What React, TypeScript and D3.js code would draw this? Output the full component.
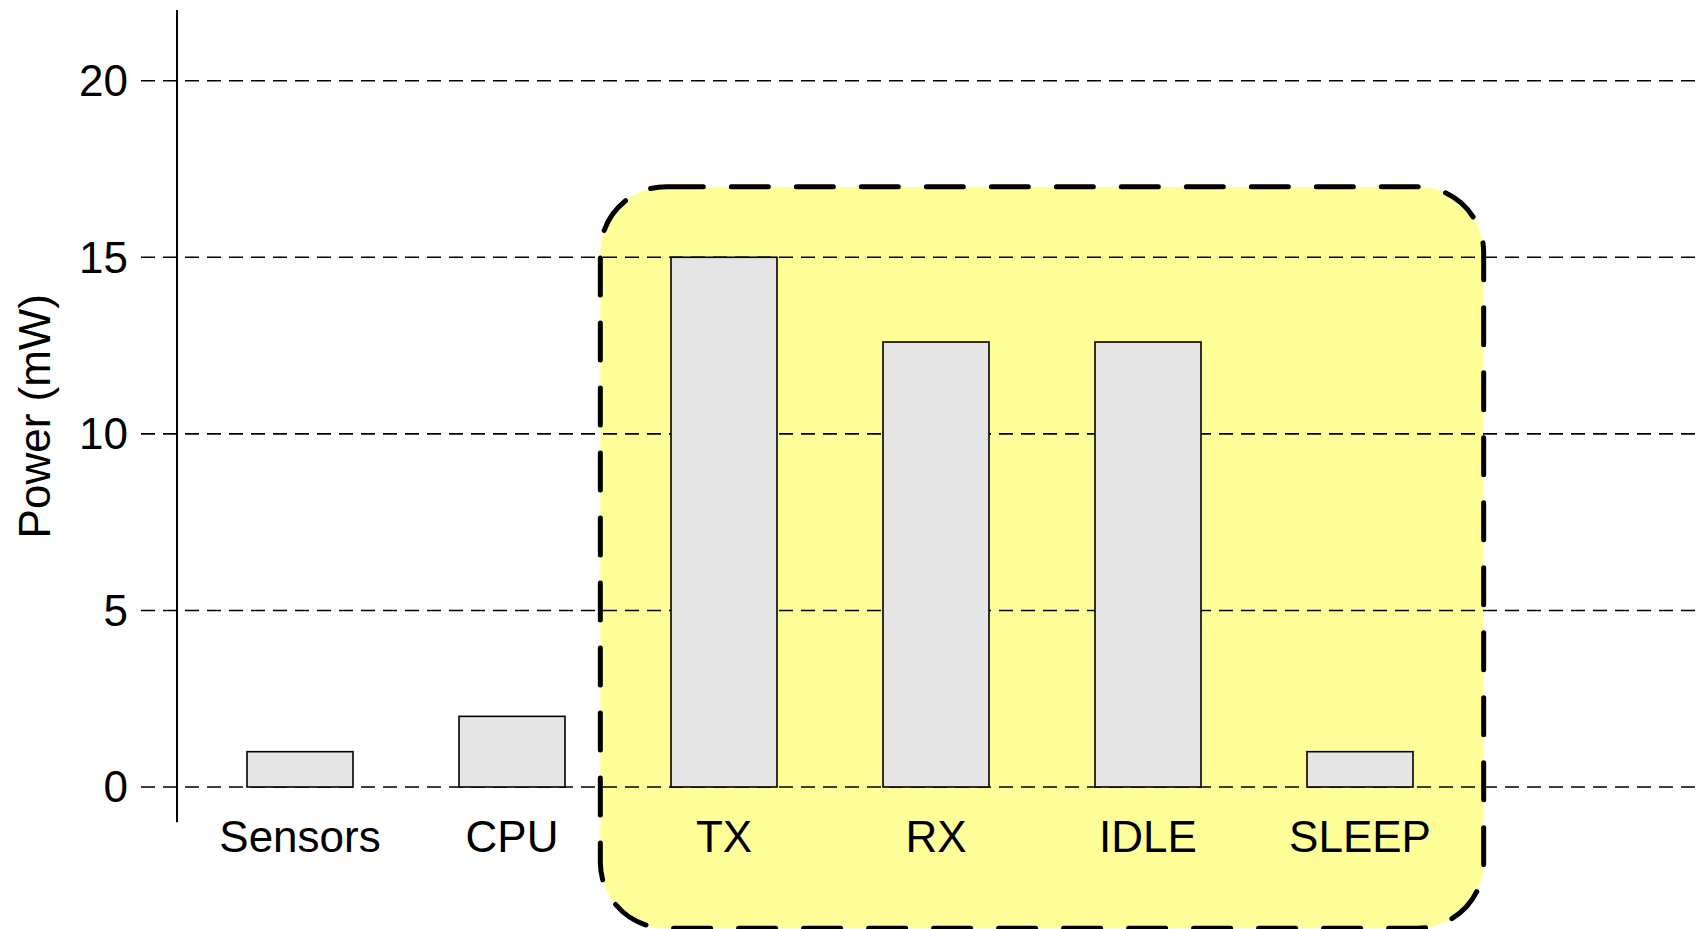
import React, { useEffect, useRef } from "react";
import * as d3 from "d3";

const categories = ["Sensors", "CPU", "TX", "RX", "IDLE", "SLEEP"];
const powerValues = [1, 2, 15, 12.6, 12.6, 1];
const yTicks = [0, 5, 10, 15, 20];
const highlighted = ["TX", "RX", "IDLE", "SLEEP"];
const highlightRange = [-4, 17];

const W = 1699;
const H = 929;

export default function App() {
  const ref = useRef<SVGSVGElement>(null);

  useEffect(() => {
    const svg = d3.select(ref.current);
    svg.selectAll("*").remove();

    const font = "'Liberation Sans', Arial, sans-serif";

    const x = d3.scaleBand()
      .domain(categories)
      .range([141, 1519])
      .paddingInner(0.5)
      .paddingOuter(0.5);

    const y = d3.scaleLinear()
      .domain([0, 20])
      .range([787, 80.7]);

    const axisX = 177;

    // highlighted region
    const first = highlighted[0];
    const last = highlighted[highlighted.length - 1];
    const pad = x.step() / 3;
    const bx0 = (x(first) as number) - pad;
    const bx1 = (x(last) as number) + x.bandwidth() + pad;
    svg.append("rect")
      .attr("x", bx0)
      .attr("y", y(highlightRange[1]))
      .attr("width", bx1 - bx0)
      .attr("height", y(highlightRange[0]) - y(highlightRange[1]))
      .attr("rx", 66)
      .attr("ry", 66)
      .attr("fill", "#ffff99")
      .attr("stroke", "#000")
      .attr("stroke-width", 5)
      .attr("stroke-dasharray", "37,28")
      .attr("stroke-linecap", "round");

    // gridlines + ticks
    svg.append("g")
      .selectAll("line")
      .data(yTicks)
      .join("line")
      .attr("x1", 141)
      .attr("x2", 1697)
      .attr("y1", d => y(d))
      .attr("y2", d => y(d))
      .attr("stroke", "#000")
      .attr("stroke-width", 1.6)
      .attr("stroke-dasharray", "14,8");

    svg.append("g")
      .selectAll("text")
      .data(yTicks)
      .join("text")
      .attr("x", 128)
      .attr("y", d => y(d))
      .attr("dy", "0.35em")
      .attr("text-anchor", "end")
      .style("font-family", font)
      .style("font-size", "44px")
      .text(d => d);

    // y axis line
    svg.append("line")
      .attr("x1", axisX)
      .attr("x2", axisX)
      .attr("y1", y(-1))
      .attr("y2", y(22))
      .attr("stroke", "#000")
      .attr("stroke-width", 2);

    // bars
    svg.append("g")
      .selectAll("rect")
      .data(powerValues)
      .join("rect")
      .attr("x", (d, i) => x(categories[i]) as number)
      .attr("y", d => y(d))
      .attr("width", x.bandwidth())
      .attr("height", d => y(0) - y(d))
      .attr("fill", "#e5e5e5")
      .attr("stroke", "#000")
      .attr("stroke-width", 1.6);

    // category labels
    svg.append("g")
      .selectAll("text")
      .data(categories)
      .join("text")
      .attr("x", d => (x(d) as number) + x.bandwidth() / 2)
      .attr("y", 852)
      .attr("text-anchor", "middle")
      .style("font-family", font)
      .style("font-size", "44px")
      .text(d => d);

    // y title
    svg.append("text")
      .attr("transform", `translate(50, ${(y(-1) + y(22)) / 2}) rotate(-90)`)
      .attr("text-anchor", "middle")
      .style("font-family", font)
      .style("font-size", "44px")
      .text("Power (mW)");
  }, []);

  return (
    <svg
      ref={ref}
      width={W}
      height={H}
      style={{ position: "absolute", left: 0, top: 0, display: "block", background: "#fff" }}
    />
  );
}
